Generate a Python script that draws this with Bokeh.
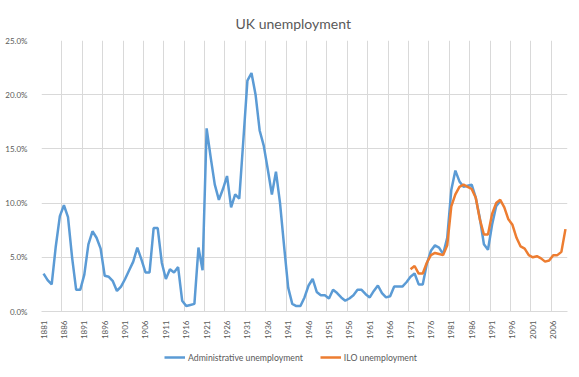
import math
from bokeh.plotting import figure
from bokeh.layouts import column
from bokeh.models import Range1d, FixedTicker, PrintfTickFormatter, Legend, LegendItem
from bokeh.embed import file_html
from bokeh.resources import INLINE

# ---- data (percent) ----
admin_start = 1881
admin_values = [
    3.5, 2.9, 2.5, 6.0, 8.8, 9.8, 8.7, 5.0, 2.0, 2.0,      # 1881-1890
    3.4, 6.2, 7.4, 6.8, 5.8, 3.3, 3.2, 2.8, 1.9, 2.3,      # 1891-1900
    3.0, 3.8, 4.6, 5.9, 4.8, 3.6, 3.6, 7.7, 7.7, 4.5,      # 1901-1910
    3.0, 3.9, 3.6, 4.1, 1.0, 0.5, 0.6, 0.7, 5.9, 3.8,      # 1911-1920
    16.9, 14.2, 11.7, 10.3, 11.3, 12.5, 9.6, 10.8, 10.4, 15.8,  # 1921-1930
    21.3, 22.0, 20.0, 16.7, 15.3, 13.1, 10.8, 12.9, 10.0, 6.0,  # 1931-1940
    2.2, 0.7, 0.5, 0.5, 1.3, 2.4, 3.0, 1.8, 1.5, 1.5,      # 1941-1950
    1.2, 2.0, 1.7, 1.3, 1.0, 1.2, 1.5, 2.0, 2.0, 1.6,      # 1951-1960
    1.3, 1.9, 2.4, 1.7, 1.3, 1.4, 2.3, 2.3, 2.3, 2.7,      # 1961-1970
    3.2, 3.5, 2.5, 2.5, 4.4, 5.6, 6.1, 5.9, 5.3, 6.8,      # 1971-1980
    11.2, 13.0, 12.0, 11.5, 11.6, 11.7, 10.5, 8.6, 6.2, 5.7,  # 1981-1990
    8.0, 9.7, 10.2,                                        # 1991-1993
]
ilo_start = 1971
ilo_values = [
    3.9, 4.2, 3.5, 3.5, 4.5, 5.2, 5.4, 5.3, 5.2, 6.1,      # 1971-1980
    9.7, 10.8, 11.5, 11.7, 11.5, 11.3, 10.5, 8.5, 7.1, 7.1,  # 1981-1990
    9.0, 10.0, 10.3, 9.6, 8.5, 8.0, 6.8, 6.0, 5.8, 5.2,    # 1991-2000
    5.0, 5.1, 4.9, 4.6, 4.7, 5.2, 5.2, 5.5, 7.6,           # 2001-2009
]
last_year = 2009
tick_years = list(range(1881, 2007, 5))
y_ticks = [0, 5, 10, 15, 20, 25]
series_names = ["Administrative unemployment", "ILO unemployment"]
series_colors = ["#5B9BD5", "#ED7D31"]

admin_years = list(range(admin_start, admin_start + len(admin_values)))
ilo_years = list(range(ilo_start, ilo_start + len(ilo_values)))
series_data = [(admin_years, admin_values), (ilo_years, ilo_values)]

GREY = "#595959"
GRID = "#d9d9d9"
FONT = "Lato"
W = 571

p = figure(width=W, height=342,
           x_range=Range1d(admin_start - 0.5, last_year + 0.5),
           y_range=Range1d(y_ticks[0], y_ticks[-1]),
           output_backend="svg", toolbar_location=None,
           min_border_left=41, min_border_right=4,
           min_border_top=40, min_border_bottom=26,
           title="UK unemployment")

p.title.text_font = FONT
p.title.text_font_size = "14px"
p.title.text_font_style = "normal"
p.title.text_color = GREY
p.title.align = "left"
p.title.offset = 194
p.title.standoff = 17

p.outline_line_color = None
p.background_fill_color = "white"
p.border_fill_color = "white"

for (xs, ys), col in zip(series_data, series_colors):
    p.line(xs, ys, line_color=col, line_width=2.5)

# x axis
p.xaxis.ticker = FixedTicker(ticks=tick_years)
p.xaxis.major_label_orientation = math.pi / 2
p.xaxis.major_label_text_font = FONT
p.xaxis.major_label_text_font_size = "8px"
p.xaxis.major_label_text_color = GREY
p.xaxis.major_label_standoff = 3
p.xaxis.major_tick_line_color = None
p.xaxis.minor_tick_line_color = None
p.xaxis.axis_line_color = GRID

# y axis
p.yaxis.ticker = FixedTicker(ticks=y_ticks)
p.yaxis.formatter = PrintfTickFormatter(format="%.1f%%")
p.yaxis.major_label_text_font = FONT
p.yaxis.major_label_text_font_size = "8px"
p.yaxis.major_label_text_color = GREY
p.yaxis.major_tick_line_color = None
p.yaxis.minor_tick_line_color = None
p.yaxis.axis_line_color = None
p.yaxis.major_label_standoff = 8

# grids: vertical lines between categories
p.xgrid.ticker = FixedTicker(ticks=[y - 0.5 for y in tick_years])
p.xgrid.grid_line_color = GRID
p.ygrid.grid_line_color = GRID

# legend strip below the chart (series drawn out of view, only their legend glyphs show)
lg = figure(width=W, height=27, x_range=Range1d(0, 1), y_range=Range1d(0, 1),
            output_backend="svg", toolbar_location=None,
            x_axis_location=None, y_axis_location=None,
            min_border=0, min_border_left=0, min_border_right=0,
            min_border_top=0, min_border_bottom=0)
lg.outline_line_color = None
lg.xgrid.visible = False
lg.ygrid.visible = False
items = []
for name, col, (xs, ys) in zip(series_names, series_colors, series_data):
    r = lg.line(xs, ys, line_color=col, line_width=2.5)
    items.append(LegendItem(label=name, renderers=[r]))
legend = Legend(items=items, orientation="horizontal", location=(123, 2),
                border_line_color=None, background_fill_alpha=0,
                padding=2, margin=0, spacing=17, glyph_width=21, label_standoff=3,
                label_text_font=FONT, label_text_font_size="8.7px",
                label_text_color=GREY)
lg.add_layout(legend)

layout = column(p, lg, spacing=0)
open("out.html", "w").write(file_html(layout, INLINE))
